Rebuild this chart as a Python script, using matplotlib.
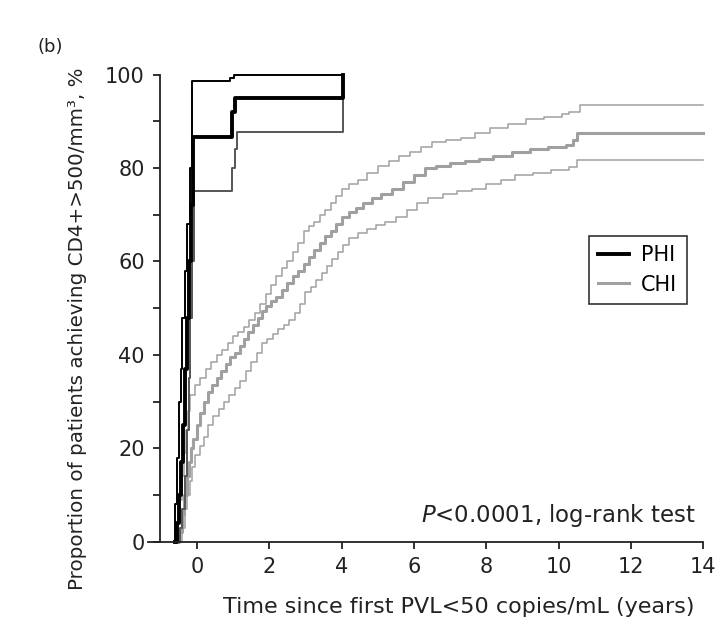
import numpy as np
import matplotlib
matplotlib.use("Agg")
import matplotlib.pyplot as plt

plt.rcParams['font.family'] = ['DejaVu Sans']
plt.rcParams['mathtext.fontset'] = 'dejavusans'

# PHI: Kaplan-Meier estimate and 95% CI (step times in years, % achieving)
phi_t = [-0.6, -0.55, -0.5, -0.45, -0.38, -0.32, -0.27, -0.22, -0.16, -0.1, 0.98, 1.05, 4.05]
phi_s = [0, 4, 10, 17, 25, 37, 48, 60, 72, 86.7, 92, 95.1, 100]

phi_up_t = [-0.64, -0.6, -0.55, -0.5, -0.45, -0.4, -0.34, -0.28, -0.2, -0.12, 0.93, 1.03, 4.05]
phi_up_s = [0, 8, 18, 30, 37, 48, 58, 68, 80, 98.6, 99.3, 100, 100]

phi_lo_t = [-0.52, -0.46, -0.4, -0.34, -0.28, -0.23, -0.18, -0.13, -0.07, 0.97, 1.06, 1.1, 4.05]
phi_lo_s = [0, 3, 7, 14, 24, 35, 48, 60, 75, 80, 84, 87.7, 95.1]

# CHI
chi_t = [-0.55, -0.5, -0.42, -0.35, -0.28, -0.22, -0.16, -0.1, 0.0, 0.1, 0.2, 0.3, 0.42, 0.55,
         0.68, 0.8, 0.92, 1.05, 1.18, 1.3, 1.42, 1.55, 1.68, 1.8, 1.92, 2.05, 2.2, 2.35, 2.5,
         2.65, 2.8, 2.95, 3.1, 3.25, 3.4, 3.55, 3.7, 3.85, 4.0, 4.2, 4.4, 4.6, 4.85, 5.1, 5.4,
         5.7, 6.0, 6.3, 6.6, 7.0, 7.4, 7.8, 8.2, 8.7, 9.2, 9.7, 10.2, 10.4, 10.5, 14.0]
chi_s = [0, 2, 6, 10, 14, 17, 20, 22, 25, 27.5, 30, 32, 33.5, 35, 36.5, 38, 39.5, 40.5, 42,
         43.5, 45, 46.5, 48, 49.5, 50.5, 51.5, 52.5, 54, 55.5, 57, 58, 59.5, 61, 62.5, 64, 65.5,
         66.5, 68, 69.5, 70.5, 71.5, 72.5, 73.5, 74.5, 75.5, 77, 78.5, 80, 80.5, 81, 81.5, 82,
         82.5, 83.5, 84, 84.5, 85, 86, 87.5, 87.5]

chi_up_t = [-0.6, -0.55, -0.48, -0.42, -0.36, -0.3, -0.24, -0.18, -0.05, 0.1, 0.25, 0.4, 0.55,
            0.7, 0.85, 1.0, 1.15, 1.3, 1.45, 1.6, 1.75, 1.9, 2.05, 2.2, 2.35, 2.5, 2.65, 2.8,
            2.95, 3.1, 3.25, 3.4, 3.55, 3.7, 3.85, 4.0, 4.2, 4.45, 4.7, 5.0, 5.3, 5.6, 5.9, 6.2,
            6.5, 6.9, 7.3, 7.7, 8.1, 8.6, 9.1, 9.6, 10.1, 10.3, 10.6, 14.0]
chi_up_s = [0, 4, 9, 14, 19, 24, 28, 31.5, 33.5, 35, 37, 38.5, 40, 41, 42.5, 44, 45, 46, 47.5,
            49, 51, 53, 55, 57, 58.5, 60, 62, 64, 66.5, 67.5, 68.5, 70, 71, 72.5, 74, 75.5, 76.5,
            77.5, 79, 80.5, 81.5, 82.5, 83.5, 84.5, 85.5, 86, 86.5, 87.5, 88.5, 89.5, 90.5, 91,
            91.5, 92, 93.4, 93.4]

chi_lo_t = [-0.45, -0.4, -0.33, -0.26, -0.19, -0.12, -0.04, 0.08, 0.2, 0.32, 0.45, 0.6, 0.75,
            0.9, 1.05, 1.2, 1.35, 1.5, 1.65, 1.8, 1.95, 2.1, 2.25, 2.4, 2.55, 2.7, 2.85, 3.0,
            3.15, 3.3, 3.45, 3.6, 3.75, 3.9, 4.05, 4.2, 4.45, 4.7, 4.95, 5.2, 5.5, 5.8, 6.1, 6.4,
            6.8, 7.2, 7.6, 8.0, 8.4, 8.8, 9.3, 9.8, 10.3, 10.5, 14.0]
chi_lo_s = [0, 3, 7, 10, 13, 16, 18.5, 20.5, 22.5, 25, 27, 28.5, 30, 31.5, 33, 34.5, 36.5, 38.5,
            40.5, 42.5, 43.5, 44.5, 45.5, 46.5, 47.5, 49, 51, 53.5, 54.5, 56, 57.5, 59, 60.5, 62,
            63.5, 65, 66, 67, 67.8, 68.5, 69.5, 71, 72.5, 73.5, 74.5, 75, 75.5, 76.5, 77.5, 78.5,
            79, 79.5, 80.3, 81.7, 81.7]

x_ticks = [0, 2, 4, 6, 8, 10, 12, 14]
y_ticks = [0, 20, 40, 60, 80, 100]

fig = plt.figure(figsize=(7.22, 6.22), dpi=100)
ax = fig.add_axes([0.205, 0.129, 0.769, 0.751])

grey = '#a0a0a0'
# CHI first, PHI on top
ax.step(chi_up_t, chi_up_s, where='post', color=grey, lw=1.1, clip_on=False)
ax.step(chi_lo_t, chi_lo_s, where='post', color=grey, lw=1.1, clip_on=False)
ax.step(chi_t, chi_s, where='post', color=grey, lw=2.2, clip_on=False, label='CHI')

ax.step(phi_lo_t, phi_lo_s, where='post', color='#555555', lw=1.4, clip_on=False)
ax.step(phi_up_t, phi_up_s, where='post', color='black', lw=1.4, clip_on=False)
ax.step(phi_t, phi_s, where='post', color='black', lw=2.8, clip_on=False, label='PHI')

ax.set_xlim(-1.35, 14)
ax.set_ylim(0, 100)
ax.spines['top'].set_visible(False)
ax.spines['right'].set_visible(False)
ax.spines['left'].set_position(('data', -1.02))
ax.spines['left'].set_bounds(0, 100)
for sp in ['left', 'bottom']:
    ax.spines[sp].set_linewidth(1.3)
    ax.spines[sp].set_color('#222222')

ax.set_xticks(x_ticks)
ax.set_yticks(y_ticks)
ax.set_yticks([10, 30, 50, 70, 90], minor=True)
ax.tick_params(axis='both', which='major', direction='out', length=5, width=1.3,
               labelsize=15, colors='#222222', pad=6)
ax.tick_params(axis='y', which='minor', direction='out', length=5, width=1.3, color='#222222')

ax.set_xlabel('Time since first PVL<50 copies/mL (years)', fontsize=16, color='#222222')
ax.set_ylabel('Proportion of patients achieving CD4+>500/mm³, %', fontsize=14.3, color='#222222')
ax.xaxis.set_label_coords(0.56, -0.118)
ax.yaxis.set_label_coords(-0.11, 0.455)

handles, labels = ax.get_legend_handles_labels()
leg = ax.legend(handles[::-1], labels[::-1], loc='upper right', bbox_to_anchor=(0.97, 0.655),
                fontsize=15, handlelength=1.45, frameon=True, fancybox=False,
                edgecolor='black', borderpad=0.45, handletextpad=0.6, labelspacing=0.45,
                borderaxespad=0)
leg.get_frame().set_linewidth(1.2)

ax.text(0.986, 0.057, r'$\mathit{P}$<0.0001, log-rank test', transform=ax.transAxes,
        ha='right', va='center', fontsize=16.5, color='#222222')
fig.text(0.07, 0.925, '(b)', fontsize=13, color='#222222', ha='center', va='center')

fig.savefig('out.png', dpi=100)
